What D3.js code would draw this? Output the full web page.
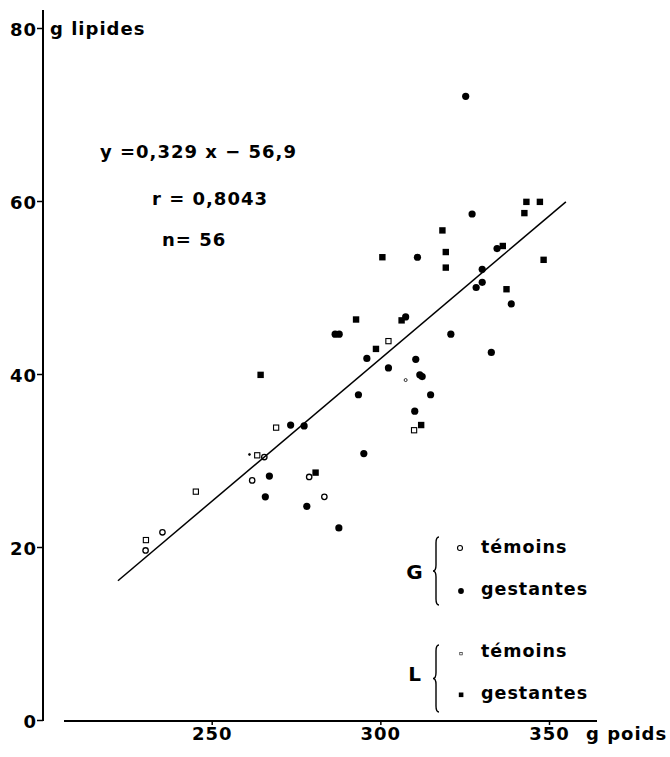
<!DOCTYPE html>
<html>
<head>
<meta charset="utf-8">
<script src="https://cdn.jsdelivr.net/npm/d3@7"></script>
<style>
  body { margin: 0; background: #fff; }
  svg text { font-family: "DejaVu Sans", sans-serif; font-weight: bold; fill: #000; letter-spacing: 1px; }
</style>
</head>
<body>
<svg id="chart" width="670" height="757"></svg>
<script>
// [g poids, g lipides]  G = gestation, L = lactation
const gTemoins = [[265.6, 30.4], [262.0, 27.7], [278.9, 28.1], [283.4, 25.8], [235.4, 21.7], [230.4, 19.6]];
const gGestantes = [
  [325.3, 72.1], [327.2, 58.5], [311.0, 53.5], [334.6, 54.5], [330.2, 52.1], [330.2, 50.6],
  [328.4, 50.0], [338.8, 48.1], [307.5, 46.6], [286.6, 44.6], [287.8, 44.6], [320.9, 44.6],
  [296.0, 41.8], [302.4, 40.7], [310.5, 41.7], [332.9, 42.5], [311.7, 39.9], [312.4, 39.7],
  [314.9, 37.6], [293.5, 37.6], [310.2, 35.7], [273.4, 34.1], [277.4, 34.0], [295.1, 30.8],
  [267.1, 28.2], [265.9, 25.8], [278.2, 24.7], [287.7, 22.2]
];
const lTemoins = [[302.4, 43.8], [310.0, 33.5], [269.1, 33.8], [263.5, 30.6], [245.3, 26.4], [230.5, 20.8]];
const lGestantes = [
  [318.4, 56.6], [342.7, 58.6], [343.3, 59.9], [347.3, 59.9], [300.6, 53.5], [319.4, 54.1],
  [319.4, 52.3], [336.3, 54.8], [348.4, 53.2], [337.4, 49.8], [292.8, 46.3], [306.3, 46.2],
  [298.7, 42.9], [312.1, 34.1], [264.5, 39.9], [280.8, 28.6]
];
const specks = [[261.2, 30.7], [307.5, 39.3]];
const regLine = [[222.2, 16.1], [355.0, 59.9]];

const xTicks = [250, 300, 350];
const yTicks = [0, 20, 40, 60, 80];
const equation = ["y =0,329 x \u2212 56,9", "r = 0,8043", "n= 56"];
const legendGroups = ["G", "L"];
const legendLabels = ["témoins", "gestantes", "témoins", "gestantes"];

const svg = d3.select("svg#chart");

const x = d3.scaleLinear().domain([250, 350]).range([211.7, 549]);
const y = d3.scaleLinear().domain([0, 80]).range([720, 28]);

// axes
const yAxis = svg.append("g")
  .attr("transform", "translate(43,0)")
  .call(d3.axisLeft(y).tickValues(yTicks).tickSize(6).tickPadding(0));
yAxis.select(".domain").remove();
yAxis.selectAll("line").attr("stroke", "#000").attr("stroke-width", 1.5);
yAxis.selectAll("text").attr("font-size", 18).attr("font-family", null).attr("dy", "0.42em");

svg.append("line")
  .attr("x1", 43).attr("x2", 43).attr("y1", 10).attr("y2", 721)
  .attr("stroke", "#000").attr("stroke-width", 2);

const xAxis = svg.append("g")
  .attr("transform", "translate(0,721)")
  .call(d3.axisBottom(x).tickValues(xTicks).tickSize(4).tickPadding(2));
xAxis.select(".domain").remove();
xAxis.selectAll("line").attr("stroke", "#000").attr("stroke-width", 1.5);
xAxis.selectAll("text").attr("font-size", 18).attr("font-family", null);

svg.append("line")
  .attr("x1", 64).attr("x2", 597).attr("y1", 721).attr("y2", 721)
  .attr("stroke", "#000").attr("stroke-width", 2);

svg.append("text").attr("x", 50).attr("y", 35).attr("font-size", 18).text("g lipides");
svg.append("text").attr("x", 586).attr("y", 740).attr("font-size", 18).text("g poids");

// regression
svg.append("path")
  .datum(regLine)
  .attr("fill", "none")
  .attr("stroke", "#000")
  .attr("stroke-width", 1.5)
  .attr("d", d3.line().x(d => x(d[0])).y(d => y(d[1])));

svg.selectAll(".eq")
  .data(equation)
  .enter().append("text")
  .attr("class", "eq")
  .attr("font-size", 18)
  .attr("x", (d, i) => [100, 152, 162][i])
  .attr("y", (d, i) => [158, 205, 246][i])
  .text(d => d);

// points
svg.selectAll(".gt").data(gTemoins).enter().append("circle")
  .attr("class", "gt")
  .attr("cx", d => x(d[0])).attr("cy", d => y(d[1])).attr("r", 2.7)
  .attr("fill", "none").attr("stroke", "#000").attr("stroke-width", 1.3);

svg.selectAll(".gg").data(gGestantes).enter().append("circle")
  .attr("class", "gg")
  .attr("cx", d => x(d[0])).attr("cy", d => y(d[1])).attr("r", 3.6)
  .attr("fill", "#000");

svg.selectAll(".lt").data(lTemoins).enter().append("rect")
  .attr("class", "lt")
  .attr("x", d => x(d[0]) - 2.6).attr("y", d => y(d[1]) - 2.6)
  .attr("width", 5.2).attr("height", 5.2)
  .attr("fill", "none").attr("stroke", "#000").attr("stroke-width", 1.1);

svg.selectAll(".lg").data(lGestantes).enter().append("rect")
  .attr("class", "lg")
  .attr("x", d => x(d[0]) - 3.2).attr("y", d => y(d[1]) - 3.2)
  .attr("width", 6.4).attr("height", 6.4)
  .attr("fill", "#000");

svg.selectAll(".speck").data(specks).enter().append("circle")
  .attr("class", "speck")
  .attr("cx", d => x(d[0])).attr("cy", d => y(d[1]))
  .attr("r", (d, i) => i ? 1.5 : 1)
  .attr("fill", (d, i) => i ? "none" : "#000")
  .attr("stroke", "#000").attr("stroke-width", 0.8);

// legend
const rowY = [553, 595, 657, 699];

function brace(xb, y1, y2) {
  const p = d3.path(), m = (y1 + y2) / 2, w = 3;
  p.moveTo(xb + w, y1);
  p.quadraticCurveTo(xb, y1, xb, y1 + w * 2);
  p.lineTo(xb, m - w * 2);
  p.quadraticCurveTo(xb, m, xb - w, m);
  p.quadraticCurveTo(xb, m, xb, m + w * 2);
  p.lineTo(xb, y2 - w * 2);
  p.quadraticCurveTo(xb, y2, xb + w, y2);
  return p.toString();
}

const legend = svg.selectAll(".legend")
  .data(legendGroups)
  .enter().append("g")
  .attr("class", "legend");

legend.append("text")
  .attr("x", 415).attr("y", (d, i) => [579, 681][i])
  .attr("font-size", 20).attr("text-anchor", "middle")
  .text(d => d);

legend.append("path")
  .attr("d", (d, i) => i ? brace(436, 645, 712) : brace(436, 537, 605))
  .attr("fill", "none").attr("stroke", "#000").attr("stroke-width", 1.4);

svg.selectAll(".leglabel")
  .data(legendLabels)
  .enter().append("text")
  .attr("class", "leglabel")
  .attr("x", 481).attr("y", (d, i) => rowY[i])
  .attr("font-size", 17.5)
  .text(d => d);

svg.append("circle").attr("cx", 460).attr("cy", rowY[0] - 5).attr("r", 2.5)
  .attr("fill", "none").attr("stroke", "#000").attr("stroke-width", 1.1);
svg.append("circle").attr("cx", 461).attr("cy", rowY[1] - 4).attr("r", 2.9).attr("fill", "#000");
svg.append("rect").attr("x", 459.8).attr("y", rowY[2] - 4.5).attr("width", 2.4).attr("height", 2.4)
  .attr("fill", "none").attr("stroke", "#000").attr("stroke-width", 0.6);
svg.append("rect").attr("x", 458.8).attr("y", rowY[3] - 6.5).attr("width", 4.6).attr("height", 4.6).attr("fill", "#000");
</script>
</body>
</html>
